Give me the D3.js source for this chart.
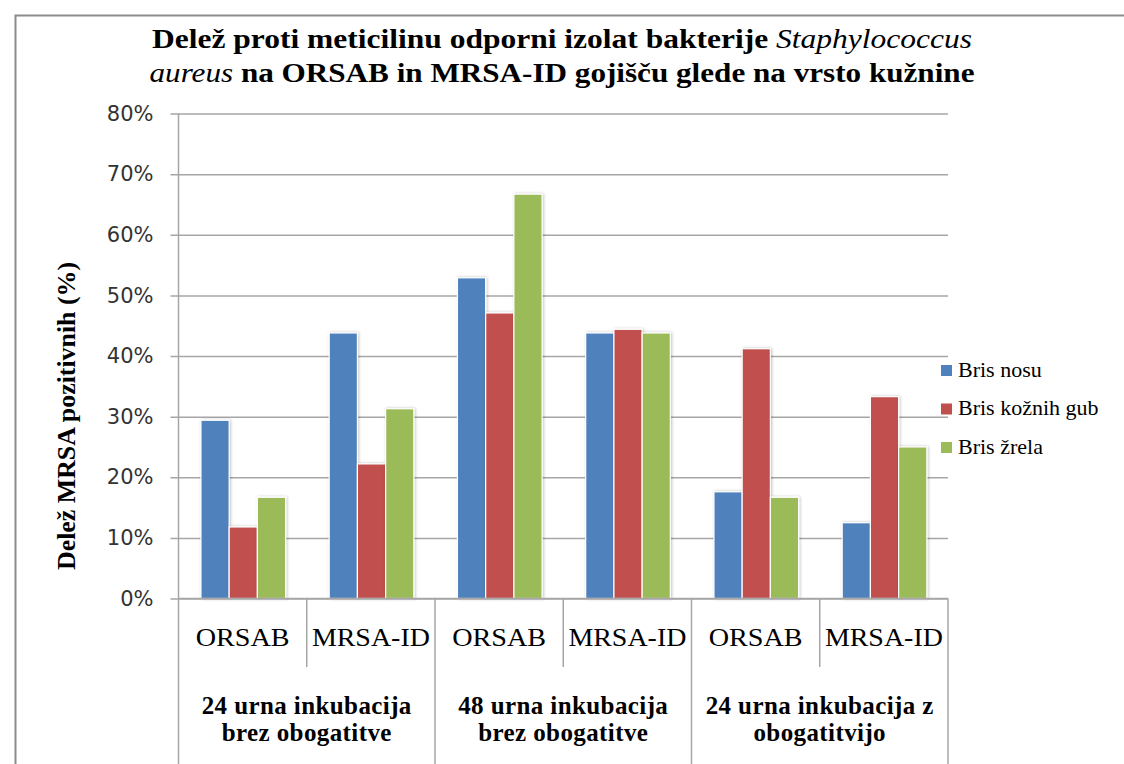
<!DOCTYPE html>
<html>
<head>
<meta charset="utf-8">
<script src="https://cdn.jsdelivr.net/npm/d3@7"></script>
<style>
  html, body { margin: 0; padding: 0; background: #fff; }
  svg { display: block; }
</style>
</head>
<body>
<svg id="chart" width="1124" height="764"></svg>
<script>
// Media within each incubation condition
const media = ["ORSAB", "MRSA-ID", "ORSAB", "MRSA-ID", "ORSAB", "MRSA-ID"];
// Incubation conditions (each spans two media)
const conditions = [
  ["24 urna inkubacija", "brez obogatitve"],
  ["48 urna inkubacija", "brez obogatitve"],
  ["24 urna inkubacija z", "obogatitvijo"]
];
// Sample types (series)
const seriesNames = ["Bris nosu", "Bris kožnih gub", "Bris žrela"];
const seriesColors = ["#4F81BD", "#C0504D", "#9BBB59"];
// Share of MRSA positive isolates per medium, one array per sample type
const brisNosu = [0.294, 0.438, 0.529, 0.438, 0.176, 0.125];
const brisKozGub = [0.118, 0.222, 0.471, 0.444, 0.412, 0.333];
const brisZrela = [0.167, 0.313, 0.667, 0.438, 0.167, 0.250];
const seriesValues = [brisNosu, brisKozGub, brisZrela];
// Value axis ticks
const yTicks = [0, 0.1, 0.2, 0.3, 0.4, 0.5, 0.6, 0.7, 0.8];

const svg = d3.select("#chart");
const serif = "'Liberation Serif', 'Times New Roman', serif";
const sans = "'DejaVu Sans', Verdana, sans-serif";

const plot = { left: 178.5, right: 948, top: 113.5, bottom: 598.5 };

// Outer frame
svg.append("path")
  .attr("d", "M15.5,764 L15.5,15.5 L1124,15.5")
  .attr("fill", "none").attr("stroke", "#8c8c8c").attr("stroke-width", 2);

const keys = media.map((m, i) => i);
const x0 = d3.scaleBand().domain(keys).range([plot.left, plot.right]).padding(0);
const bw = x0.bandwidth();
const x1 = d3.scaleBand().domain(d3.range(seriesNames.length))
  .range([bw * 0.175, bw * 0.835]).padding(0);
const y = d3.scaleLinear().domain([0, 0.8]).range([plot.bottom, plot.top]);

// Gridlines and value axis
const yAxis = d3.axisLeft(y).tickValues(yTicks)
  .tickFormat(d3.format(".0%"))
  .tickSize(-(plot.right - plot.left)).tickSizeOuter(0).tickPadding(25);
const gy = svg.append("g").attr("transform", `translate(${plot.left},0)`).call(yAxis);
gy.select(".domain").remove();
gy.selectAll(".tick line").attr("stroke", "#a6a6a6").attr("stroke-width", 1.5).attr("x1", -8);
gy.selectAll(".tick text")
  .attr("font-family", sans).attr("font-size", 21).attr("fill", "#333");

// Shadow filter for bars
const defs = svg.append("defs");
const f = defs.append("filter").attr("id", "shadow").attr("x", "-20%").attr("y", "-5%").attr("width", "140%").attr("height", "110%");
f.append("feGaussianBlur").attr("in", "SourceAlpha").attr("stdDeviation", 1.5).attr("result", "b");
f.append("feOffset").attr("in", "b").attr("dx", 1).attr("dy", 0).attr("result", "o");
f.append("feComponentTransfer").attr("in", "o").attr("result", "s")
  .append("feFuncA").attr("type", "linear").attr("slope", 0.25);
const fm = f.append("feMerge");
fm.append("feMergeNode").attr("in", "s");
fm.append("feMergeNode").attr("in", "SourceGraphic");

// Bars
const barData = [];
seriesValues.forEach((vals, s) => vals.forEach((v, i) => barData.push({ s, i, v })));
svg.append("g").selectAll("rect").data(barData).join("rect")
  .attr("x", d => x0(d.i) + x1(d.s))
  .attr("y", d => y(d.v))
  .attr("width", x1.bandwidth())
  .attr("height", d => y(0) - y(d.v))
  .attr("fill", d => seriesColors[d.s])
  .attr("stroke", "#fff").attr("stroke-width", 1.2)
  .attr("filter", "url(#shadow)");

// Category axis: baseline and table-like dividers
const axisCol = "#a6a6a6";
const ax = svg.append("g").attr("stroke", axisCol).attr("stroke-width", 1.5);
ax.append("line").attr("x1", plot.left).attr("x2", plot.right)
  .attr("y1", plot.bottom).attr("y2", plot.bottom);
ax.append("line").attr("x1", plot.left).attr("x2", plot.left)
  .attr("y1", plot.top).attr("y2", 764);
keys.forEach(i => {
  const xr = x0(i) + bw;
  const isGroupEnd = (i % 2 === 1);
  ax.append("line").attr("x1", xr).attr("x2", xr)
    .attr("y1", plot.bottom).attr("y2", isGroupEnd ? 764 : 667);
});

// Medium labels
svg.append("g").selectAll("text").data(media).join("text")
  .attr("x", (d, i) => x0(i) + bw / 2)
  .attr("y", 646)
  .attr("text-anchor", "middle")
  .attr("font-family", serif).attr("font-size", 26)
  .attr("textLength", d => d === "ORSAB" ? 94 : 118)
  .attr("lengthAdjust", "spacingAndGlyphs")
  .attr("fill", "#000")
  .text(d => d);

// Condition labels
const cg = svg.append("g");
conditions.forEach((lines, k) => {
  const cx = x0(k * 2) + bw;
  lines.forEach((t, j) => {
    cg.append("text")
      .attr("x", cx).attr("y", 714 + j * 27)
      .attr("text-anchor", "middle")
      .attr("font-family", serif).attr("font-size", 25).attr("font-weight", "bold")
      .attr("letter-spacing", 0.4)
      .attr("fill", "#000")
      .text(t);
  });
});

// Value axis title
svg.append("text")
  .attr("transform", `translate(75,416) rotate(-90)`)
  .attr("text-anchor", "middle")
  .attr("font-family", serif).attr("font-size", 25).attr("font-weight", "bold")
  .attr("textLength", 308).attr("lengthAdjust", "spacingAndGlyphs")
  .text("Delež MRSA pozitivnih (%)");

// Chart title
const t1 = svg.append("text").attr("x", 562).attr("y", 47.5)
  .attr("text-anchor", "middle").attr("font-family", serif)
  .attr("font-size", 28).attr("font-weight", "bold")
  .attr("textLength", 820).attr("lengthAdjust", "spacingAndGlyphs");
t1.append("tspan").text("Delež proti meticilinu odporni izolat bakterije ");
t1.append("tspan").attr("font-style", "italic").attr("font-weight", "normal").text("Staphylococcus");

const t2 = svg.append("text").attr("x", 562).attr("y", 81.5)
  .attr("text-anchor", "middle").attr("font-family", serif)
  .attr("font-size", 28).attr("font-weight", "bold")
  .attr("textLength", 825).attr("lengthAdjust", "spacingAndGlyphs");
t2.append("tspan").attr("font-style", "italic").attr("font-weight", "normal").text("aureus");
t2.append("tspan").text(" na ORSAB in MRSA-ID gojišču glede na vrsto kužnine");

// Legend
const lg = svg.append("g").attr("transform", "translate(941,365)");
seriesNames.forEach((n, s) => {
  const row = lg.append("g").attr("transform", `translate(0,${s * 38.5})`);
  row.append("rect").attr("width", 11).attr("height", 11).attr("fill", seriesColors[s]);
  row.append("text").attr("x", 17).attr("y", 11.5)
    .attr("font-family", serif).attr("font-size", 22).attr("fill", "#000")
    .text(n);
});
</script>
</body>
</html>
